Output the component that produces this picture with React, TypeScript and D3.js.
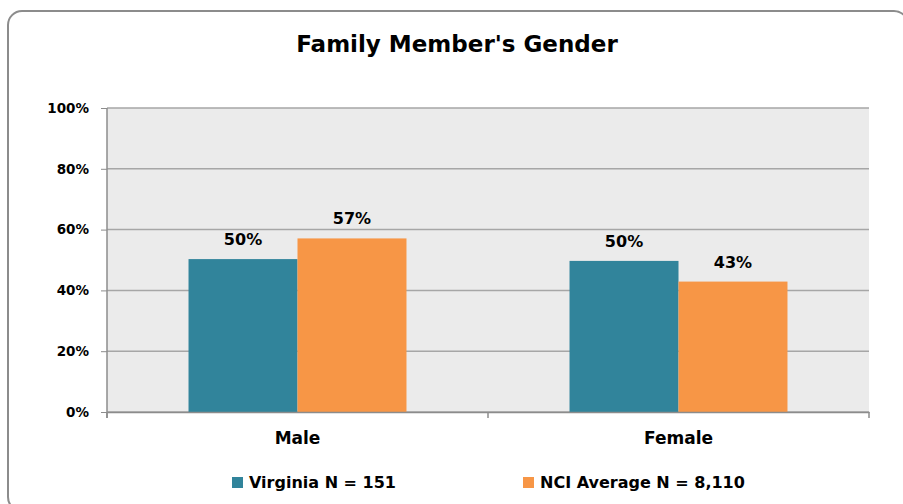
import React, { useEffect, useRef } from "react";
import * as d3 from "d3";

const categories = ["Male", "Female"];
const seriesNames = ["Virginia N = 151", "NCI Average N = 8,110"];
const virginia = [50.3, 49.7];
const nciAverage = [57.1, 42.9];
const yTicks = [0, 20, 40, 60, 80, 100];
const colors = ["#31849b", "#f79646"];

const FONT = "'DejaVu Sans', sans-serif";

const App = () => {
  const ref = useRef<SVGSVGElement>(null);

  useEffect(() => {
    const svg = d3.select(ref.current);
    svg.selectAll("*").remove();

    const margin = { top: 108, left: 107 };
    const width = 762;
    const height = 304;

    // outer frame
    svg.append("rect")
      .attr("x", 8).attr("y", 11)
      .attr("width", 900).attr("height", 500)
      .attr("rx", 14)
      .attr("fill", "#fff")
      .attr("stroke", "#8c8c8c")
      .attr("stroke-width", 2);

    svg.append("text")
      .attr("x", 457).attr("y", 52)
      .attr("text-anchor", "middle")
      .style("font-family", FONT)
      .style("font-weight", 700)
      .style("font-size", "23px")
      .text("Family Member's Gender");

    const chart = svg.append("g")
      .attr("transform", `translate(${margin.left}, ${margin.top})`);

    const x = d3.scaleBand().domain(categories).range([0, width]);
    const xInner = d3.scaleBand()
      .domain(seriesNames)
      .range([0, x.bandwidth()])
      .paddingOuter(0.748);
    const y = d3.scaleLinear().domain([0, 100]).range([height, 0]);

    chart.append("rect")
      .attr("width", width).attr("height", height)
      .attr("fill", "#ebebeb");

    chart.selectAll(".grid")
      .data(yTicks)
      .enter().append("line")
      .attr("x1", 0).attr("x2", width)
      .attr("y1", (d) => y(d)).attr("y2", (d) => y(d))
      .attr("stroke", "#a6a6a6")
      .attr("stroke-width", 1.5);

    const rows = categories.map((c, i) => ({ c, vals: [virginia[i], nciAverage[i]] }));

    const groups = chart.selectAll(".cat")
      .data(rows)
      .enter().append("g")
      .attr("transform", (d) => `translate(${x(d.c)}, 0)`);

    groups.selectAll("rect")
      .data((d) => d.vals.map((v, j) => ({ v, s: seriesNames[j], j })))
      .enter().append("rect")
      .attr("x", (d) => xInner(d.s)!)
      .attr("y", (d) => y(d.v))
      .attr("width", xInner.bandwidth())
      .attr("height", (d) => height - y(d.v))
      .attr("fill", (d) => colors[d.j]);

    groups.selectAll("text")
      .data((d) => d.vals.map((v, j) => ({ v, s: seriesNames[j], j })))
      .enter().append("text")
      .attr("x", (d) => xInner(d.s)! + xInner.bandwidth() / 2)
      .attr("y", (d) => y(d.v) - 14)
      .attr("text-anchor", "middle")
      .style("font-family", FONT)
      .style("font-weight", 700)
      .style("font-size", "16px")
      .text((d) => `${Math.round(d.v)}%`);

    // y axis
    const yAxis = chart.append("g")
      .call(d3.axisLeft(y).tickValues(yTicks).tickSize(6).tickPadding(12).tickFormat((d) => `${d}%`));
    yAxis.select(".domain").remove();
    yAxis.selectAll("line").attr("stroke", "#8c8c8c");
    yAxis.selectAll("text")
      .style("font-family", FONT)
      .style("font-weight", 700)
      .style("font-size", "13.5px")
      .attr("fill", "#000");
    chart.append("line")
      .attr("x1", 0).attr("x2", 0).attr("y1", 0).attr("y2", height + 6)
      .attr("stroke", "#8c8c8c").attr("stroke-width", 1.5);

    // x axis
    const xAxis = chart.append("g")
      .attr("transform", `translate(0, ${height})`)
      .call(d3.axisBottom(x).tickSize(0).tickPadding(20));
    xAxis.select(".domain").attr("stroke", "#8c8c8c").attr("stroke-width", 1.5);
    xAxis.selectAll("text")
      .style("font-family", FONT)
      .style("font-weight", 700)
      .style("font-size", "17px")
      .attr("fill", "#000");
    chart.selectAll(".xtick")
      .data([0, ...categories.map((c) => x(c)! + x.bandwidth())])
      .enter().append("line")
      .attr("x1", (d) => d).attr("x2", (d) => d)
      .attr("y1", height).attr("y2", height + 6)
      .attr("stroke", "#8c8c8c").attr("stroke-width", 1.5);

    // legend
    const legendX = [232, 523];
    seriesNames.forEach((name, i) => {
      svg.append("rect")
        .attr("x", legendX[i]).attr("y", 477)
        .attr("width", 11).attr("height", 11)
        .attr("fill", colors[i]);
      svg.append("text")
        .attr("x", legendX[i] + 17).attr("y", 488)
        .style("font-family", FONT)
        .style("font-weight", 700)
        .style("font-size", "16px")
        .text(name);
    });
  }, []);

  return <svg ref={ref} width={903} height={504} style={{ position: "absolute", left: 0, top: 0 }} />;
};

export default App;
